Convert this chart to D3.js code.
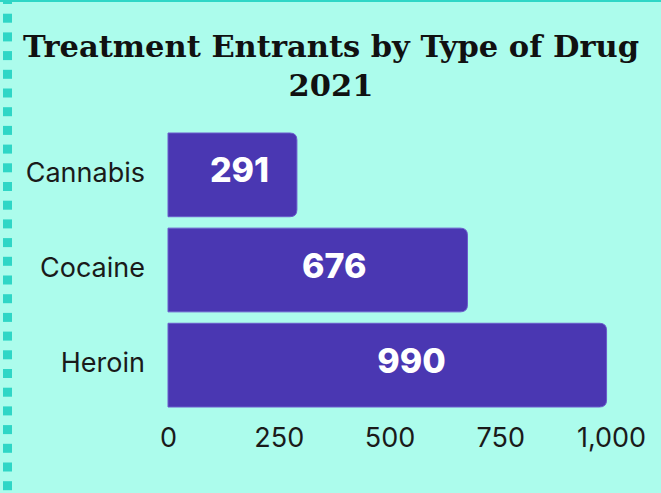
<!DOCTYPE html>
<html>
<head>
<meta charset="utf-8">
<script src="https://cdn.jsdelivr.net/npm/d3@7"></script>
<style>
  html, body { margin: 0; padding: 0; background: #acfcec; }
  svg { display: block; }
</style>
</head>
<body>
<svg id="chart" width="661" height="493"></svg>
<script>
// Treatment entrants, 2021
const drugs = ["Cannabis", "Cocaine", "Heroin"];
const entrants = [291, 676, 990];
const tickValues = [0, 250, 500, 750, 1000];
const titleLines = ["Treatment Entrants by Type of Drug", "2021"];

const W = 661, H = 493;
const svg = d3.select("#chart");
const sans = "Inter, 'Open Sans', sans-serif";

svg.append("rect").attr("width", W).attr("height", H).attr("fill", "#acfcec");

// top rule and dotted left edge
svg.append("rect").attr("x", 0).attr("y", 0).attr("width", W).attr("height", 2).attr("fill", "#2fd6c6");
const dots = d3.range(-5, H + 19, 18.7);
svg.selectAll("rect.dot").data(dots).join("rect")
  .attr("class", "dot")
  .attr("x", 3).attr("y", d => d).attr("width", 9).attr("height", 9)
  .attr("fill", "#2fd6c6");

// title
svg.append("g").selectAll("text").data(titleLines).join("text")
  .attr("x", 331).attr("y", (d, i) => 57 + i * 39)
  .attr("text-anchor", "middle")
  .attr("font-family", "'DejaVu Serif', serif")
  .attr("font-weight", "bold")
  .attr("font-size", 30.5)
  .attr("fill", "#111")
  .text(d => d);

const x = d3.scaleLinear().domain([0, 1000]).range([168, 611]);
const y = d3.scaleBand().domain(drugs).range([133, 407]).paddingInner(0.12).paddingOuter(0);

const data = drugs.map((d, i) => ({ drug: d, value: entrants[i] }));
const r = 7;

function barPath(d) {
  const x0 = x(0), x1 = x(d.value), y0 = y(d.drug), y1 = y0 + y.bandwidth();
  return `M${x0},${y0}H${x1 - r}Q${x1},${y0} ${x1},${y0 + r}V${y1 - r}Q${x1},${y1} ${x1 - r},${y1}H${x0}Z`;
}

svg.append("g").selectAll("path").data(data).join("path")
  .attr("d", barPath)
  .attr("fill", "#4a37b2")
  .attr("stroke", "#6a5ccc")
  .attr("stroke-width", 1);

// value labels sit a little right of the bar centre
svg.append("g").selectAll("text").data(data).join("text")
  .attr("x", d => x(d.value * 0.555))
  .attr("y", d => y(d.drug) + y.bandwidth() / 2 + 7.5)
  .attr("text-anchor", "middle")
  .attr("font-family", sans)
  .attr("font-weight", 800)
  .attr("font-size", 34)
  .attr("fill", "#ffffff")
  .text(d => d.value);

// category axis
const yAxis = svg.append("g").attr("transform", `translate(${x(0)},0)`)
  .call(d3.axisLeft(y).tickSize(0).tickPadding(23));
yAxis.select(".domain").remove();
yAxis.selectAll("text")
  .attr("dy", null)
  .attr("y", 7)
  .attr("font-family", sans)
  .attr("font-size", 27)
  .attr("fill", "#1a1a1a");

// value axis
const xAxis = svg.append("g").attr("transform", `translate(0,447)`)
  .call(d3.axisBottom(x).tickValues(tickValues).tickFormat(d3.format(",")).tickSize(0));
xAxis.select(".domain").remove();
xAxis.selectAll("text")
  .attr("dy", null)
  .attr("y", 0)
  .attr("font-family", sans)
  .attr("font-size", 27)
  .attr("fill", "#1a1a1a");
</script>
</body>
</html>
